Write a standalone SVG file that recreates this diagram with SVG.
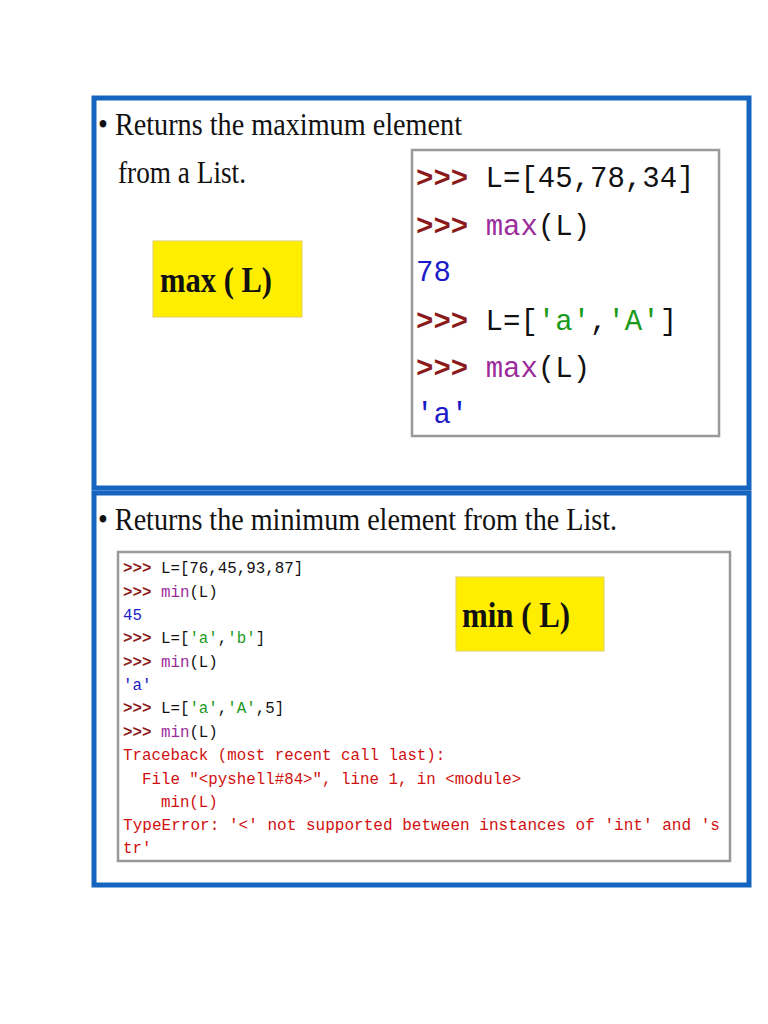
<svg xmlns="http://www.w3.org/2000/svg" width="768" height="1024" viewBox="0 0 768 1024">
<style>
.panel{fill:#fff;stroke:#1565C0;stroke-width:5}
.code{fill:#fff;stroke:#999;stroke-width:2.5}
.yel{fill:#FFEE00;stroke:#e0d060;stroke-width:1}
.title{font-family:"Liberation Serif",serif;font-size:31px;fill:#111}
.big{font-family:"Liberation Serif",serif;font-size:36px;font-weight:bold;fill:#111}
.m1{font-family:"Liberation Mono",monospace;font-size:29px;fill:#111}
.m2{font-family:"Liberation Mono",monospace;font-size:15.8px;fill:#111}
.p{fill:#8B1A1A;font-weight:bold}.f{fill:#9B2C9B}.b{fill:#1A1AC8}.g{fill:#1A9A1A}.r{fill:#D01010}
</style>
<rect width="768" height="1024" fill="#fff"/>
<g id="panel-max">
<rect class="panel" x="94" y="98" width="655" height="390"/>
<text class="title" x="98" y="135" textLength="364" lengthAdjust="spacingAndGlyphs">• Returns the maximum element</text>
<text class="title" x="118" y="183" textLength="128" lengthAdjust="spacingAndGlyphs">from a List.</text>
</g>
<g id="max-label">
<rect class="yel" x="153" y="241" width="149" height="76"/>
<text class="big" x="160" y="292" textLength="112" lengthAdjust="spacingAndGlyphs">max ( L)</text>
</g>
<g id="max-code">
<rect class="code" x="412" y="150" width="307" height="286"/>
<g class="m1">
<text x="416" y="187"><tspan class="p">&gt;&gt;&gt;</tspan> L=[45,78,34]</text>
<text x="416" y="235"><tspan class="p">&gt;&gt;&gt;</tspan> <tspan class="f">max</tspan>(L)</text>
<text x="416" y="281" class="b">78</text>
<text x="416" y="330"><tspan class="p">&gt;&gt;&gt;</tspan> L=[<tspan class="g">'a'</tspan>,<tspan class="g">'A'</tspan>]</text>
<text x="416" y="377"><tspan class="p">&gt;&gt;&gt;</tspan> <tspan class="f">max</tspan>(L)</text>
<text x="416" y="423" class="b">'a'</text>
</g>
</g>
<g id="panel-min">
<rect class="panel" x="94" y="493" width="655" height="392"/>
<text class="title" x="98" y="530" textLength="519" lengthAdjust="spacingAndGlyphs">• Returns the minimum element from the List.</text>
</g>
<g id="min-code">
<rect class="code" x="118" y="552" width="612" height="309"/>
<g class="m2">
<text x="123" y="573"><tspan class="p">&gt;&gt;&gt;</tspan> L=[76,45,93,87]</text>
<text x="123" y="597"><tspan class="p">&gt;&gt;&gt;</tspan> <tspan class="f">min</tspan>(L)</text>
<text x="123" y="620" class="b">45</text>
<text x="123" y="643"><tspan class="p">&gt;&gt;&gt;</tspan> L=[<tspan class="g">'a'</tspan>,<tspan class="g">'b'</tspan>]</text>
<text x="123" y="667"><tspan class="p">&gt;&gt;&gt;</tspan> <tspan class="f">min</tspan>(L)</text>
<text x="123" y="690" class="b">'a'</text>
<text x="123" y="713"><tspan class="p">&gt;&gt;&gt;</tspan> L=[<tspan class="g">'a'</tspan>,<tspan class="g">'A'</tspan>,5]</text>
<text x="123" y="737"><tspan class="p">&gt;&gt;&gt;</tspan> <tspan class="f">min</tspan>(L)</text>
<text x="123" y="760" class="r">Traceback (most recent call last):</text>
<text x="123" y="784" class="r" xml:space="preserve">  File "&lt;pyshell#84&gt;", line 1, in &lt;module&gt;</text>
<text x="123" y="807" class="r" xml:space="preserve">    min(L)</text>
<text x="123" y="830" class="r" textLength="597" lengthAdjust="spacingAndGlyphs">TypeError: '&lt;' not supported between instances of 'int' and 's</text>
<text x="123" y="853" class="r">tr'</text>
</g>
</g>
<g id="min-label">
<rect class="yel" x="456" y="577" width="148" height="74"/>
<text class="big" x="462" y="627" textLength="108" lengthAdjust="spacingAndGlyphs">min ( L)</text>
</g>
</svg>
